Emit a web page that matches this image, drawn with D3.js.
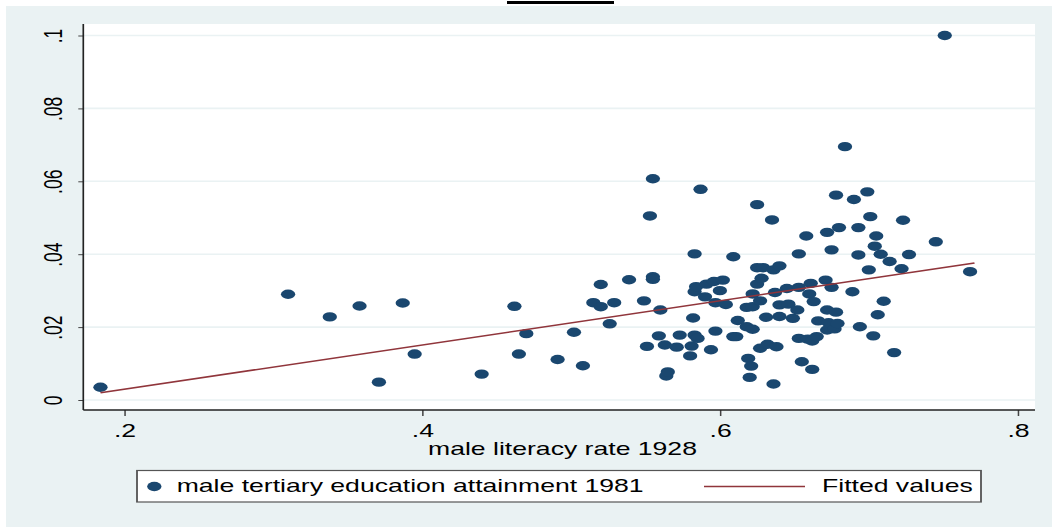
<!DOCTYPE html>
<html>
<head>
<meta charset="utf-8">
<script src="https://cdn.jsdelivr.net/npm/d3@7"></script>
<style>
  html, body { margin: 0; padding: 0; background: #fff; }
  svg { display: block; font-family: "Liberation Sans", Arial, sans-serif; }
</style>
</head>
<body>
<div id="chart"></div>
<script>
// scatter points: male literacy rate 1928 (x) vs male tertiary attainment 1981 (y)
const literacy = [
  .184, .310, .338, .358, .371, .387, .395, .440, .462, .465, .470, .491, .502, .508,
  .520, .515, .520, .529, .526, .539, .549, .555, .555, .553, .555, .551, .559, .560,
  .563, .564, .565, .571, .573, .580, .581, .582, .583, .583, .583, .584, .585, .587,
  .590, .591, .594, .596, .597, .597, .600, .602, .604, .609, .609, .611, .612,
  .618, .618, .619, .620, .621, .622, .622, .622, .625, .625, .625, .627, .627, .628,
  .629, .631, .632, .635, .636, .636, .637, .638, .640, .640, .640, .645, .646, .649,
  .652, .653, .653, .653, .655, .658, .659, .660, .661, .662, .662, .663, .665, .666,
  .671, .672, .672, .672, .673, .675, .675, .677, .678, .678, .679, .680, .684, .689,
  .690, .693, .693, .694, .699, .700, .701, .703, .704, .705, .706, .708, .710, .714,
  .717, .722, .723, .727, .745, .751, .768
];
const tertiary = [
  .0035, .0290, .0228, .0258, .0049, .0266, .0126, .0071, .0257, .0126, .0182, .0111, .0186, .0094,
  .0317, .0267, .0256, .0267, .0209, .0330, .0272, .0338, .0331, .0505, .0607, .0147, .0176, .0247,
  .0151, .0066, .0077, .0145, .0178, .0121, .0148, .0225, .0178, .0401, .0297, .0311, .0169, .0578,
  .0283, .0318, .0138, .0325, .0267, .0189, .0300, .0329, .0262, .0393, .0174, .0174, .0218,
  .0201, .0254, .0114, .0062, .0093, .0194, .0256, .0291, .0536, .0363, .0318, .0272, .0142, .0334,
  .0363, .0227, .0153, .0494, .0357, .0044, .0295, .0146, .0368, .0261, .0229, .0306, .0263, .0224,
  .0247, .0309, .0401, .0169, .0105, .0450, .0167, .0291, .0320, .0162, .0084, .0270, .0174, .0217,
  .0329, .0247, .0460, .0192, .0212, .0412, .0309, .0195, .0241, .0562, .0210, .0473, .0695, .0297,
  .0550, .0473, .0398, .0201, .0571, .0357, .0503, .0176, .0422, .0450, .0234, .0400, .0271, .0380,
  .0130, .0360, .0493, .0399, .0434, .1000, .0352
];
// fitted values line, end points as read
const fittedX = [.184, .771];
const fittedY = [.0020, .0376];

const xTicks = [.2, .4, .6, .8];
const yTicks = [0, .02, .04, .06, .08, .1];

const xTitle = "male literacy rate 1928";
const legendLabels = ["male tertiary education attainment 1981", "Fitted values"];

const width = 1052, height = 527;
const sx = 1.52; // the picture is stretched sideways
const bg = "#eaf2f3", navy = "#1a476f", maroon = "#90353b";
const fontSize = 17.5;

const plotLeft = 83.3, plotRight = 1035, plotTop = 24, plotBottom = 410;

const svg = d3.select("#chart").append("svg")
  .attr("width", width)
  .attr("height", height);

svg.append("rect")
  .attr("x", 6).attr("y", 6)
  .attr("width", width - 6).attr("height", height - 6)
  .attr("fill", bg);

// cut-off remains of the title at the top edge
svg.append("rect")
  .attr("x", 507).attr("y", 1)
  .attr("width", 107).attr("height", 3)
  .attr("fill", "#000");

const g = svg.append("g").attr("transform", `scale(${sx},1)`);

const x = d3.scaleLinear().domain([.2, .8]).range([124.3 / sx, 1017.7 / sx]);
const y = d3.scaleLinear().domain([0, .1]).range([400, 35.5]);

g.append("rect")
  .attr("x", plotLeft / sx).attr("y", plotTop)
  .attr("width", (plotRight - plotLeft) / sx).attr("height", plotBottom - plotTop)
  .attr("fill", "#fff");

// grid lines
g.append("g")
  .selectAll("line")
  .data(yTicks)
  .join("line")
  .attr("x1", plotLeft / sx).attr("x2", plotRight / sx)
  .attr("y1", y).attr("y2", y)
  .attr("stroke", bg)
  .attr("stroke-width", 1.6);

const fmt = (d) => d === 0 ? "0" : d3.format(".2~f")(d).replace(/^0/, "");

// y axis
const yAxis = g.append("g")
  .attr("transform", `translate(${plotLeft / sx},0)`)
  .call(d3.axisLeft(y).tickValues(yTicks).tickFormat(fmt).tickSize(5 / sx).tickSizeOuter(0));
yAxis.select(".domain").remove();
yAxis.selectAll(".tick line").attr("stroke", "#444");
yAxis.selectAll(".tick text")
  .attr("x", null).attr("dy", null)
  .attr("transform", "rotate(-90)")
  .attr("text-anchor", "middle")
  .attr("y", -(plotLeft - 62) / sx)
  .attr("font-size", fontSize)
  .attr("font-family", "Liberation Sans, Arial, sans-serif")
  .attr("fill", "#000");

// x axis
const xAxis = g.append("g")
  .attr("transform", `translate(0,${plotBottom})`)
  .call(d3.axisBottom(x).tickValues(xTicks).tickFormat(fmt).tickSize(6).tickSizeOuter(0));
xAxis.select(".domain").remove();
xAxis.selectAll(".tick line").attr("stroke", "#444");
xAxis.selectAll(".tick text")
  .attr("y", 14.5)
  .attr("font-size", fontSize)
  .attr("font-family", "Liberation Sans, Arial, sans-serif")
  .attr("fill", "#000");

// axis lines
g.append("line")
  .attr("x1", plotLeft / sx).attr("x2", plotLeft / sx)
  .attr("y1", plotTop).attr("y2", plotBottom)
  .attr("stroke", "#222").attr("stroke-width", 1.1);
g.append("line")
  .attr("x1", plotLeft / sx).attr("x2", plotRight / sx)
  .attr("y1", plotBottom).attr("y2", plotBottom)
  .attr("stroke", "#222").attr("stroke-width", 1.3);

// points
g.append("g")
  .attr("fill", navy)
  .selectAll("circle")
  .data(d3.range(literacy.length))
  .join("circle")
  .attr("cx", (i) => x(literacy[i]))
  .attr("cy", (i) => y(tertiary[i]))
  .attr("r", 4.7);

// fitted line
g.append("line")
  .attr("x1", x(fittedX[0])).attr("y1", y(fittedY[0]))
  .attr("x2", x(fittedX[1])).attr("y2", y(fittedY[1]))
  .attr("stroke", maroon)
  .attr("stroke-width", 1.5);

// axis title
g.append("text")
  .attr("x", 562.5 / sx).attr("y", 455)
  .attr("text-anchor", "middle")
  .attr("font-size", fontSize)
  .text(xTitle);

// legend
const legend = g.append("g");
legend.append("rect")
  .attr("x", 137 / sx).attr("y", 470.5)
  .attr("width", (981 - 137) / sx).attr("height", 31.5)
  .attr("fill", "#fff")
  .attr("stroke", "#555")
  .attr("stroke-width", 1.2);
legend.append("circle")
  .attr("cx", 154.3 / sx).attr("cy", 486.5)
  .attr("r", 4.7)
  .attr("fill", navy);
legend.append("text")
  .attr("x", 176.7 / sx).attr("y", 492.5)
  .attr("font-size", fontSize)
  .text(legendLabels[0]);
legend.append("line")
  .attr("x1", 704 / sx).attr("x2", 805 / sx)
  .attr("y1", 486.5).attr("y2", 486.5)
  .attr("stroke", maroon)
  .attr("stroke-width", 1.5);
legend.append("text")
  .attr("x", 822 / sx).attr("y", 492.5)
  .attr("font-size", fontSize)
  .text(legendLabels[1]);
</script>
</body>
</html>
